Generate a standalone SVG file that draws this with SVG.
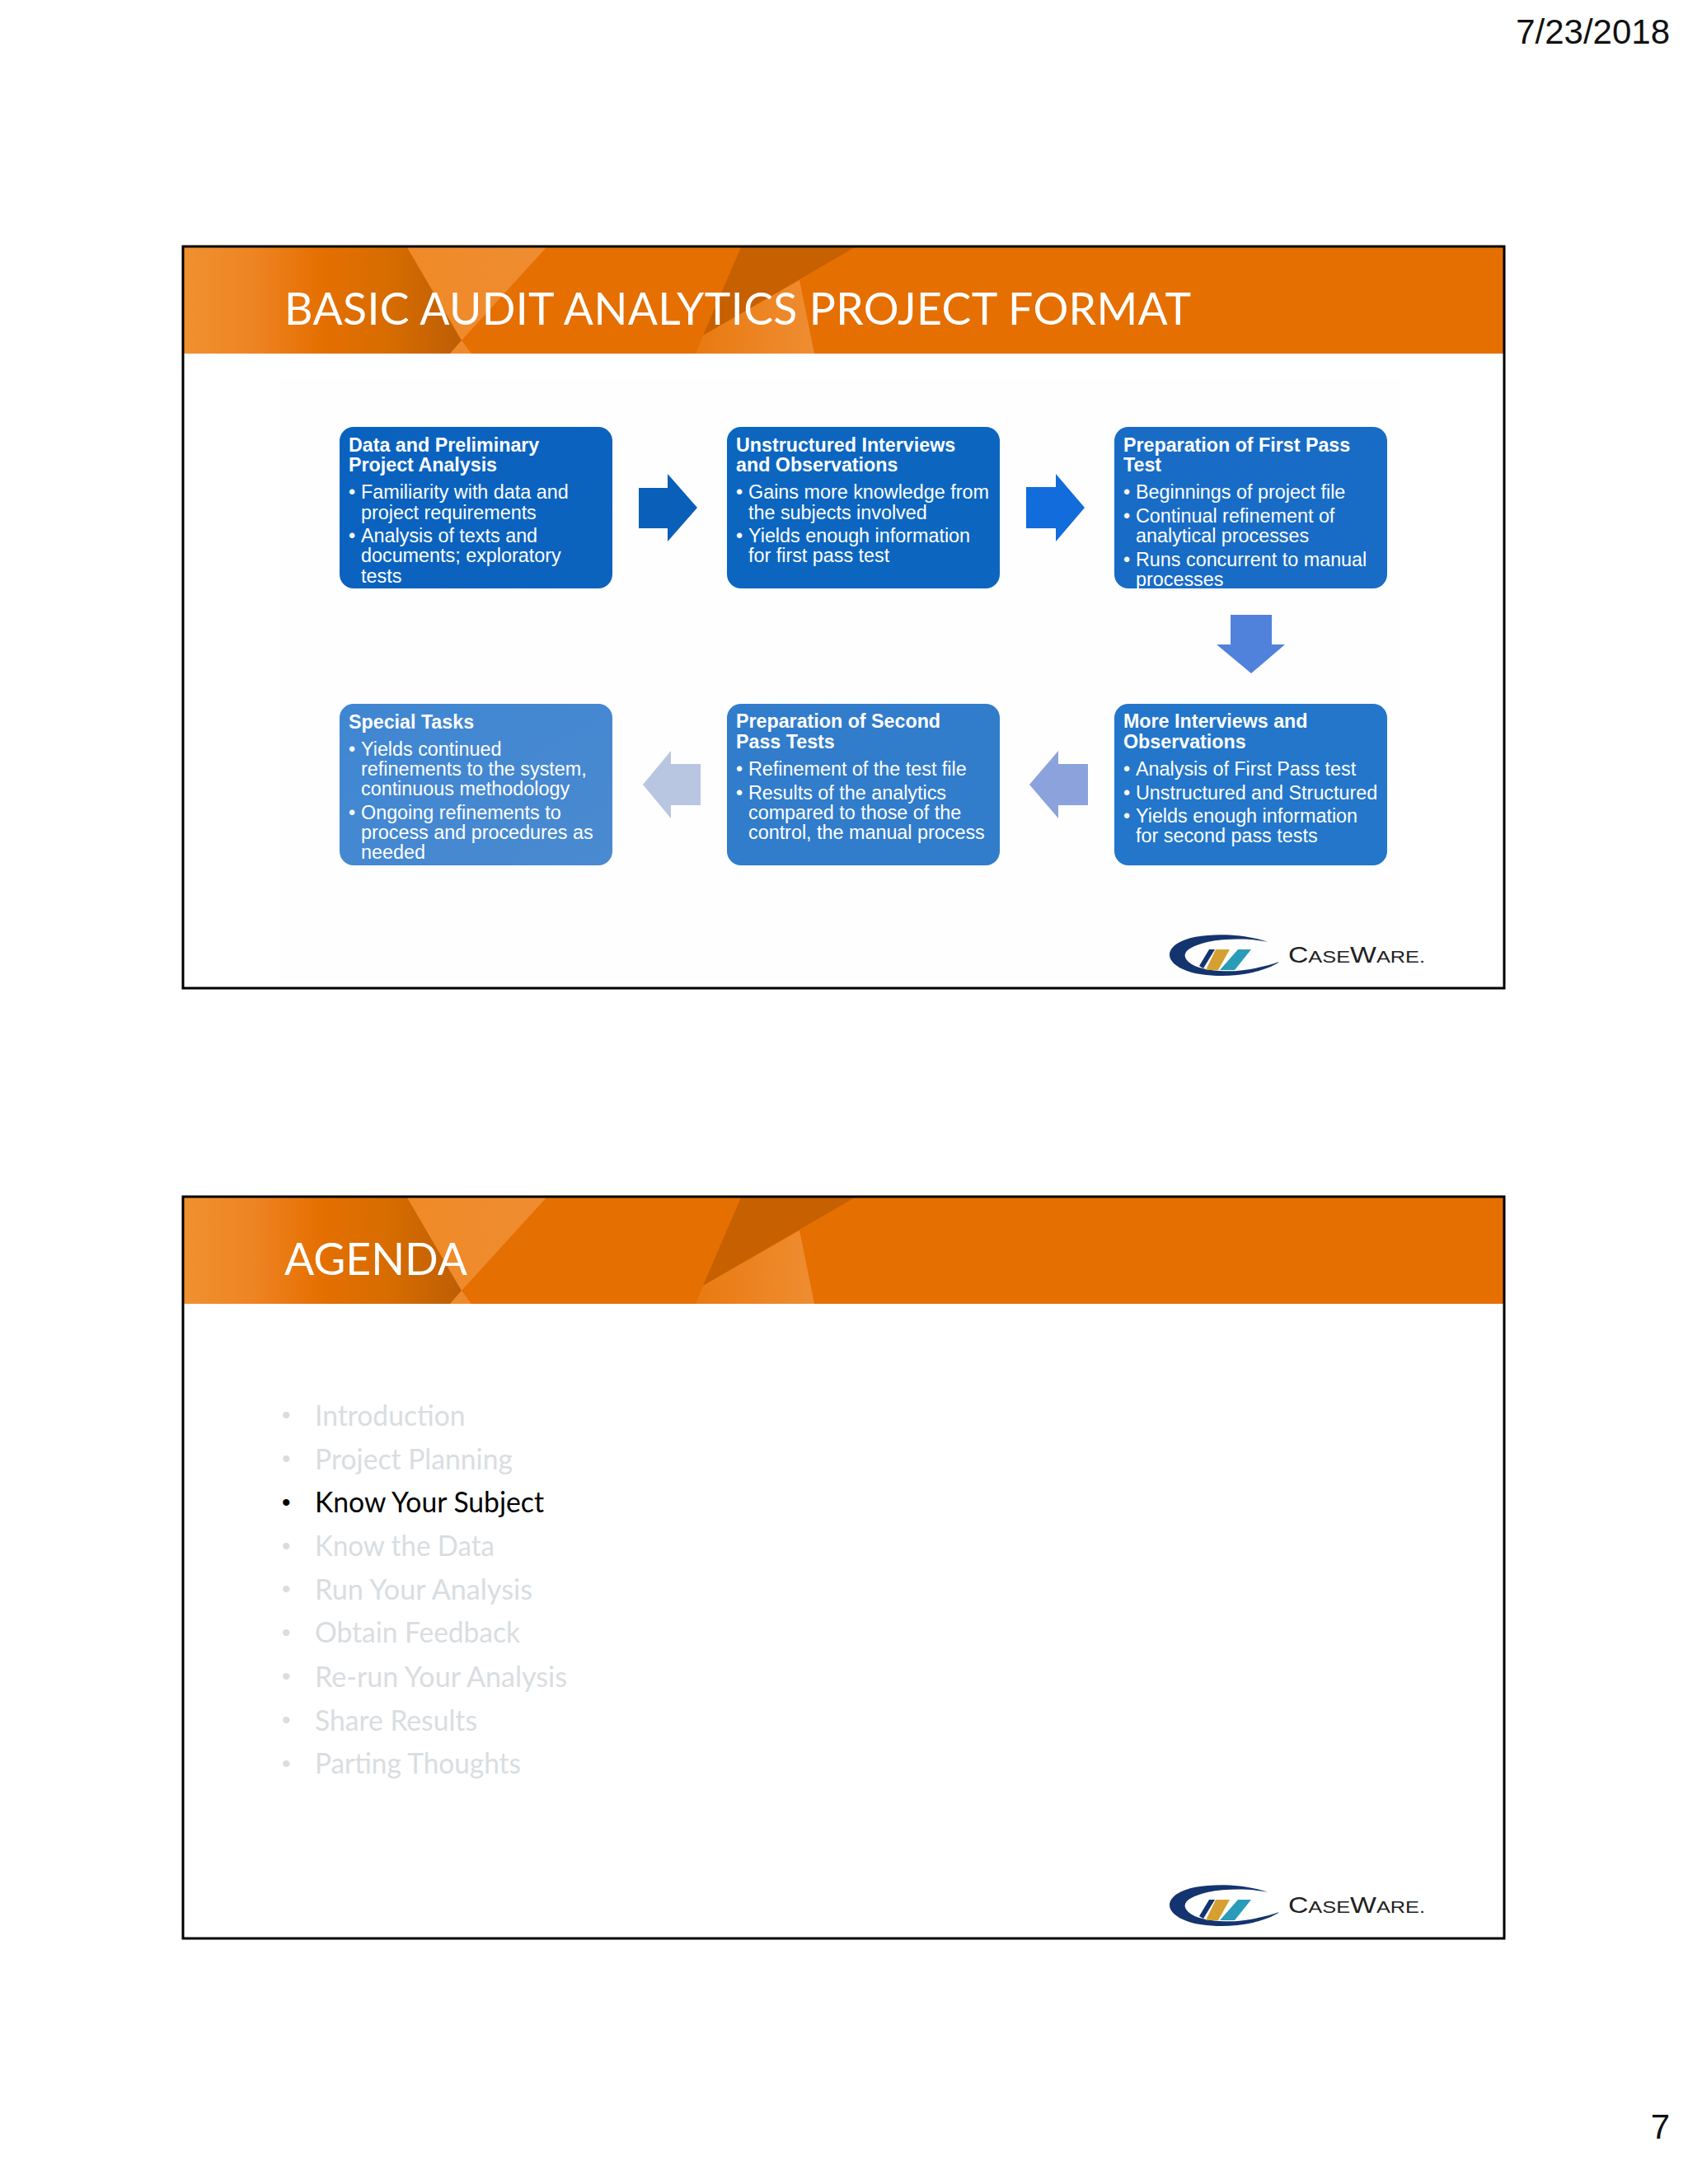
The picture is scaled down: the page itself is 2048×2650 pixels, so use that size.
<svg xmlns="http://www.w3.org/2000/svg" width="2048" height="2650" viewBox="0 0 2048 2650">
<style>
.b{font-family:"Liberation Sans",Arial,sans-serif;fill:#fff;font-size:23.35px}
.h{font-weight:bold;font-size:23.25px}
.t{font-family:Lato,"Open Sans",sans-serif;fill:#fff;font-size:53.5px}
.a{font-family:Lato,"Open Sans",sans-serif;font-size:34px;fill:#d9dde1}
.d{font-family:"Liberation Sans",Arial,sans-serif;font-size:30px;fill:#d9dde1}
.p{font-family:"Liberation Sans",Arial,sans-serif;font-size:42px;fill:#111}
.c{font-family:"Liberation Sans",Arial,sans-serif;fill:#222;font-size:21px}
.c tspan{font-size:28px}
.f{fill:none;stroke:#000;stroke-width:3}
</style>
<defs>
<linearGradient id="hg" x1="223" x2="560" y1="0" y2="0" gradientUnits="userSpaceOnUse"><stop offset="0" stop-color="#f0902f"/><stop offset=".25" stop-color="#ee8423"/><stop offset=".5" stop-color="#e56f00"/><stop offset=".75" stop-color="#d66c00"/><stop offset="1" stop-color="#bd5e05"/></linearGradient>
<linearGradient id="lg" x1="494" x2="663" y1="0" y2="0" gradientUnits="userSpaceOnUse"><stop offset="0" stop-color="#f08a28"/><stop offset="1" stop-color="#ee8c30"/></linearGradient>
<linearGradient id="lg2" x1="844" x2="988" y1="0" y2="0" gradientUnits="userSpaceOnUse"><stop offset="0" stop-color="#e97a10"/><stop offset="1" stop-color="#ef8d32"/></linearGradient>
<linearGradient id="b1" x1="0" y1="0" x2="1" y2="1"><stop offset="0" stop-color="#0a62bf"/><stop offset="1" stop-color="#0b63be"/></linearGradient>
<linearGradient id="b6" x1="0" y1="0" x2="1" y2="1"><stop offset="0" stop-color="#3f86d2"/><stop offset="1" stop-color="#4a8ad0"/></linearGradient>
<g id="head">
<rect x="223" y="300" width="1602" height="129" fill="#e56f00"/>
<path d="M223 300H494L560 413L546 429H223Z" fill="url(#hg)"/>
<path d="M494 300H663L560 413Z" fill="url(#lg)"/>
<path d="M560 413L546 429H572Z" fill="#ef8a2c"/>
<path d="M899 300H1037L853 407Z" fill="#c66000"/>
<path d="M970 340L988 429H844L853 407Z" fill="url(#lg2)"/>
</g>
<g id="logo">
<path d="M1538 1143C1510 1132 1450 1130 1428 1145C1412 1156 1418 1170 1440 1178C1455 1184 1490 1187 1520 1180C1535 1176 1548 1171 1552 1167C1535 1173 1505 1180 1480 1178C1460 1177 1445 1172 1440 1165C1432 1155 1445 1148 1465 1143C1490 1138 1520 1139 1538 1143Z" fill="#14346f"/>
<path d="M1467 1152H1474L1460 1175L1455 1172Z" fill="#14346f"/>
<path d="M1475 1152H1492L1478 1177H1463Z" fill="#d5a032"/>
<path d="M1502 1152H1518L1498 1177H1480Z" fill="#2a9bb8"/>
</g>
</defs>
<rect width="2048" height="2650" fill="#fff"/>
<rect x="340" y="460" width="1360" height="730" fill="#fefefe"/>

<g id="slide1-header">
<use href="#head"/>
<rect class="f" x="222" y="299" width="1603" height="900"/>
<text class="t" x="345" y="394" textLength="1100">BASIC AUDIT ANALYTICS PROJECT FORMAT</text>
</g>

<g id="connectors">
<path d="M775 592H810V575L846 616L810 657V641H775Z" fill="#0a5fb8"/>
<path d="M1245 591H1281V575L1316 616L1281 657V641H1245Z" fill="#126cdc"/>
<path d="M1493 746H1543V782H1559L1518 817L1476 782H1493Z" fill="#5082dc"/>
<path d="M1320 927H1284V911L1249 952L1284 993V977H1320Z" fill="#8ca2dc"/>
<path d="M850 927H814V911L780 952L814 993V977H850Z" fill="#b9c6e2"/>
</g>

<g id="node1">
<rect x="412" y="518" width="331" height="196" rx="17" fill="url(#b1)"/>
<text class="b h" x="423" y="548">Data and Preliminary</text>
<text class="b h" x="423" y="572">Project Analysis</text>
<text class="b" x="423" y="605">•</text><text class="b" x="438" y="605">Familiarity with data and</text>
<text class="b" x="438" y="630">project requirements</text>
<text class="b" x="423" y="658">•</text><text class="b" x="438" y="658">Analysis of texts and</text>
<text class="b" x="438" y="682">documents; exploratory</text>
<text class="b" x="438" y="707">tests</text>
</g>
<g id="node2">
<rect x="882" y="518" width="331" height="196" rx="17" fill="#0c66c0"/>
<text class="b h" x="893" y="548">Unstructured Interviews</text>
<text class="b h" x="893" y="572">and Observations</text>
<text class="b" x="893" y="605">•</text><text class="b" x="908" y="605">Gains more knowledge from</text>
<text class="b" x="908" y="630">the subjects involved</text>
<text class="b" x="893" y="658">•</text><text class="b" x="908" y="658">Yields enough information</text>
<text class="b" x="908" y="682">for first pass test</text>
</g>
<g id="node3">
<rect x="1352" y="518" width="331" height="196" rx="17" fill="#186cc6"/>
<text class="b h" x="1363" y="548">Preparation of First Pass</text>
<text class="b h" x="1363" y="572">Test</text>
<text class="b" x="1363" y="605">•</text><text class="b" x="1378" y="605">Beginnings of project file</text>
<text class="b" x="1363" y="634">•</text><text class="b" x="1378" y="634">Continual refinement of</text>
<text class="b" x="1378" y="658">analytical processes</text>
<text class="b" x="1363" y="687">•</text><text class="b" x="1378" y="687">Runs concurrent to manual</text>
<text class="b" x="1378" y="711">processes</text>
</g>
<g id="node4">
<rect x="1352" y="854" width="331" height="196" rx="17" fill="#2376ca"/>
<text class="b h" x="1363" y="883">More Interviews and</text>
<text class="b h" x="1363" y="908">Observations</text>
<text class="b" x="1363" y="941">•</text><text class="b" x="1378" y="941">Analysis of First Pass test</text>
<text class="b" x="1363" y="970">•</text><text class="b" x="1378" y="970">Unstructured and Structured</text>
<text class="b" x="1363" y="998">•</text><text class="b" x="1378" y="998">Yields enough information</text>
<text class="b" x="1378" y="1022">for second pass tests</text>
</g>
<g id="node5">
<rect x="882" y="854" width="331" height="196" rx="17" fill="#317ccb"/>
<text class="b h" x="893" y="883">Preparation of Second</text>
<text class="b h" x="893" y="908">Pass Tests</text>
<text class="b" x="893" y="941">•</text><text class="b" x="908" y="941">Refinement of the test file</text>
<text class="b" x="893" y="970">•</text><text class="b" x="908" y="970">Results of the analytics</text>
<text class="b" x="908" y="994">compared to those of the</text>
<text class="b" x="908" y="1018">control, the manual process</text>
</g>
<g id="node6">
<rect x="412" y="854" width="331" height="196" rx="17" fill="url(#b6)"/>
<text class="b h" x="423" y="884">Special Tasks</text>
<text class="b" x="423" y="917">•</text><text class="b" x="438" y="917">Yields continued</text>
<text class="b" x="438" y="941">refinements to the system,</text>
<text class="b" x="438" y="965">continuous methodology</text>
<text class="b" x="423" y="994">•</text><text class="b" x="438" y="994">Ongoing refinements to</text>
<text class="b" x="438" y="1018">process and procedures as</text>
<text class="b" x="438" y="1042">needed</text>
</g>
<g id="logo1">
<use href="#logo"/>
<text class="c" x="1563" y="1168" textLength="166" lengthAdjust="spacingAndGlyphs"><tspan>C</tspan>ASE<tspan>W</tspan>ARE.</text>
</g>

<g id="slide2-header" transform="translate(0 1153)">
<use href="#head"/>
<rect class="f" x="222" y="299" width="1603" height="900"/>
<text class="t" x="345" y="394">AGENDA</text>
</g>
<g id="agenda">
<text class="d" x="342" y="1727">•</text><text class="a" x="382" y="1730" textLength="182.5" lengthAdjust="spacingAndGlyphs">Introduction</text>
<text class="d" x="342" y="1780">•</text><text class="a" x="382" y="1783" textLength="240" lengthAdjust="spacingAndGlyphs">Project Planning</text>
<text class="d" x="342" y="1833" style="fill:#000">•</text><text class="a" x="382" y="1835" style="fill:#000" textLength="278" lengthAdjust="spacingAndGlyphs">Know Your Subject</text>
<text class="d" x="342" y="1886">•</text><text class="a" x="382" y="1888" textLength="218" lengthAdjust="spacingAndGlyphs">Know the Data</text>
<text class="d" x="342" y="1938">•</text><text class="a" x="382" y="1941" textLength="264" lengthAdjust="spacingAndGlyphs">Run Your Analysis</text>
<text class="d" x="342" y="1991">•</text><text class="a" x="382" y="1993" textLength="249" lengthAdjust="spacingAndGlyphs">Obtain Feedback</text>
<text class="d" x="342" y="2044">•</text><text class="a" x="382" y="2047" textLength="306" lengthAdjust="spacingAndGlyphs">Re-run Your Analysis</text>
<text class="d" x="342" y="2097">•</text><text class="a" x="382" y="2100" textLength="197" lengthAdjust="spacingAndGlyphs">Share Results</text>
<text class="d" x="342" y="2150">•</text><text class="a" x="382" y="2152" textLength="250" lengthAdjust="spacingAndGlyphs">Parting Thoughts</text>
</g>
<g id="logo2">
<g transform="translate(0 1153)"><use href="#logo"/></g>
<text class="c" x="1563" y="2321" textLength="166" lengthAdjust="spacingAndGlyphs"><tspan>C</tspan>ASE<tspan>W</tspan>ARE.</text>
</g>
<g id="page">
<text class="p" x="2026" y="53" text-anchor="end">7/23/2018</text>
<text class="p" x="2026" y="2595" text-anchor="end">7</text>
</g>
</svg>
